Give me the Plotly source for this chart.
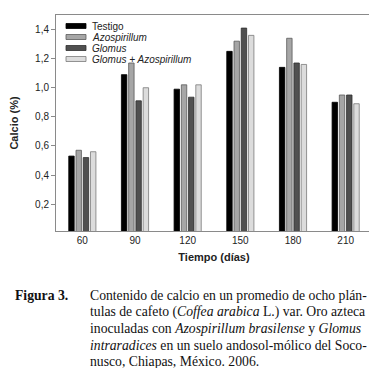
import plotly.graph_objects as go

dias = ["60", "90", "120", "150", "180", "210"]
series_names = ["Testigo", "<i>Azospirillum</i>", "<i>Glomus</i>", "<i>Glomus + Azospirillum</i>"]
testigo = [0.53, 1.09, 0.99, 1.25, 1.14, 0.90]
azospirillum = [0.57, 1.17, 1.02, 1.32, 1.34, 0.95]
glomus = [0.52, 0.91, 0.935, 1.41, 1.17, 0.95]
glomus_azo = [0.56, 1.00, 1.02, 1.36, 1.16, 0.89]
ytick_vals = [0.2, 0.4, 0.6, 0.8, 1.0, 1.2, 1.4]

fills = ["#000000", "#a6a6a6", "#505050", "#dcdcdc"]
lines = ["#000000", "#5a5a5a", "#2e2e2e", "#7a7a7a"]
values = [testigo, azospirillum, glomus, glomus_azo]

fig = go.Figure()
for name, vals, fc, lc in zip(series_names, values, fills, lines):
    fig.add_trace(go.Bar(x=dias, y=vals, name=name, marker=dict(color=fc, line=dict(color=lc, width=0.8)),
                         showlegend=False))

sans = "Liberation Sans, Arial, sans-serif"
serif = "Liberation Serif, Times New Roman, serif"

# plot area in pixels: x 48..364, y 7..223
PL, PR, PT, PB = 48, 364, 7, 223
PW, PH = PR - PL, PB - PT

def px(x):
    return (x - PL) / PW

def py(y):
    return (PB - y) / PH

# compact legend (plotly's own legend rows are too tall for this layout)
leg_y = [18, 29, 40, 51]
for i, (name, fc, lc) in enumerate(zip(series_names, fills, lines)):
    fig.add_shape(type="rect", xref="paper", yref="paper",
                  x0=px(58), x1=px(78), y0=py(leg_y[i] + 2.5), y1=py(leg_y[i] - 2.5),
                  fillcolor=fc, line=dict(color=lc, width=0.8))
    fig.add_annotation(xref="paper", yref="paper", x=px(82), y=py(leg_y[i]),
                       text=name, showarrow=False, xanchor="left", yanchor="middle",
                       font=dict(family=sans, size=10, color="#222"))

fig.update_layout(
    width=377, height=368,
    margin=dict(l=PL, r=377 - PR, t=PT, b=368 - PB),
    paper_bgcolor="white", plot_bgcolor="white",
    separators=",.",
    barmode="group", bargap=0.45, bargroupgap=0.25,
    font=dict(family=sans, size=10, color="#222"),
    xaxis=dict(type="category", showline=True, linecolor="#8a8a8a", linewidth=1, mirror=True,
               ticks="", tickfont=dict(size=10, family=sans), automargin=False,
               title=dict(text="<b>Tiempo (días)</b>", font=dict(size=11, family=sans), standoff=8)),
    yaxis=dict(range=[0.015, 1.5], showline=True, linecolor="#8a8a8a", linewidth=1, mirror=True,
               showgrid=False, zeroline=False, ticks="outside", ticklen=4, tickcolor="#8a8a8a",
               tickvals=ytick_vals, tickformat=".1f", tickfont=dict(size=10, family=sans),
               automargin=False,
               title=dict(text="<b>Calcio (%)</b>", font=dict(size=11, family=sans), standoff=14)),
)

caption_label = "<b>Figura 3.</b>"
caption_lines = [
    "Contenido de calcio en un promedio de ocho plán-",
    "tulas de cafeto (<i>Coffea arabica</i> L.) var. Oro azteca",
    "inoculadas con <i>Azospirillum brasilense</i> y <i>Glomus</i>",
    "<i>intraradices</i> en un suelo andosol-mólico del Soco-",
    "nusco, Chiapas, México. 2006.",
]
cap_y = [287.5, 304, 320.5, 337, 353]
fig.add_annotation(xref="paper", yref="paper", x=px(5), y=py(cap_y[0]),
                   text=caption_label, showarrow=False, xanchor="left", yanchor="middle",
                   font=dict(family=serif, size=13.7, color="#111"))
for t, yy in zip(caption_lines, cap_y):
    fig.add_annotation(xref="paper", yref="paper", x=px(80), y=py(yy),
                       text=t, showarrow=False, xanchor="left", yanchor="middle",
                       font=dict(family=serif, size=13.7, color="#111"))

fig.write_html("out.html")
